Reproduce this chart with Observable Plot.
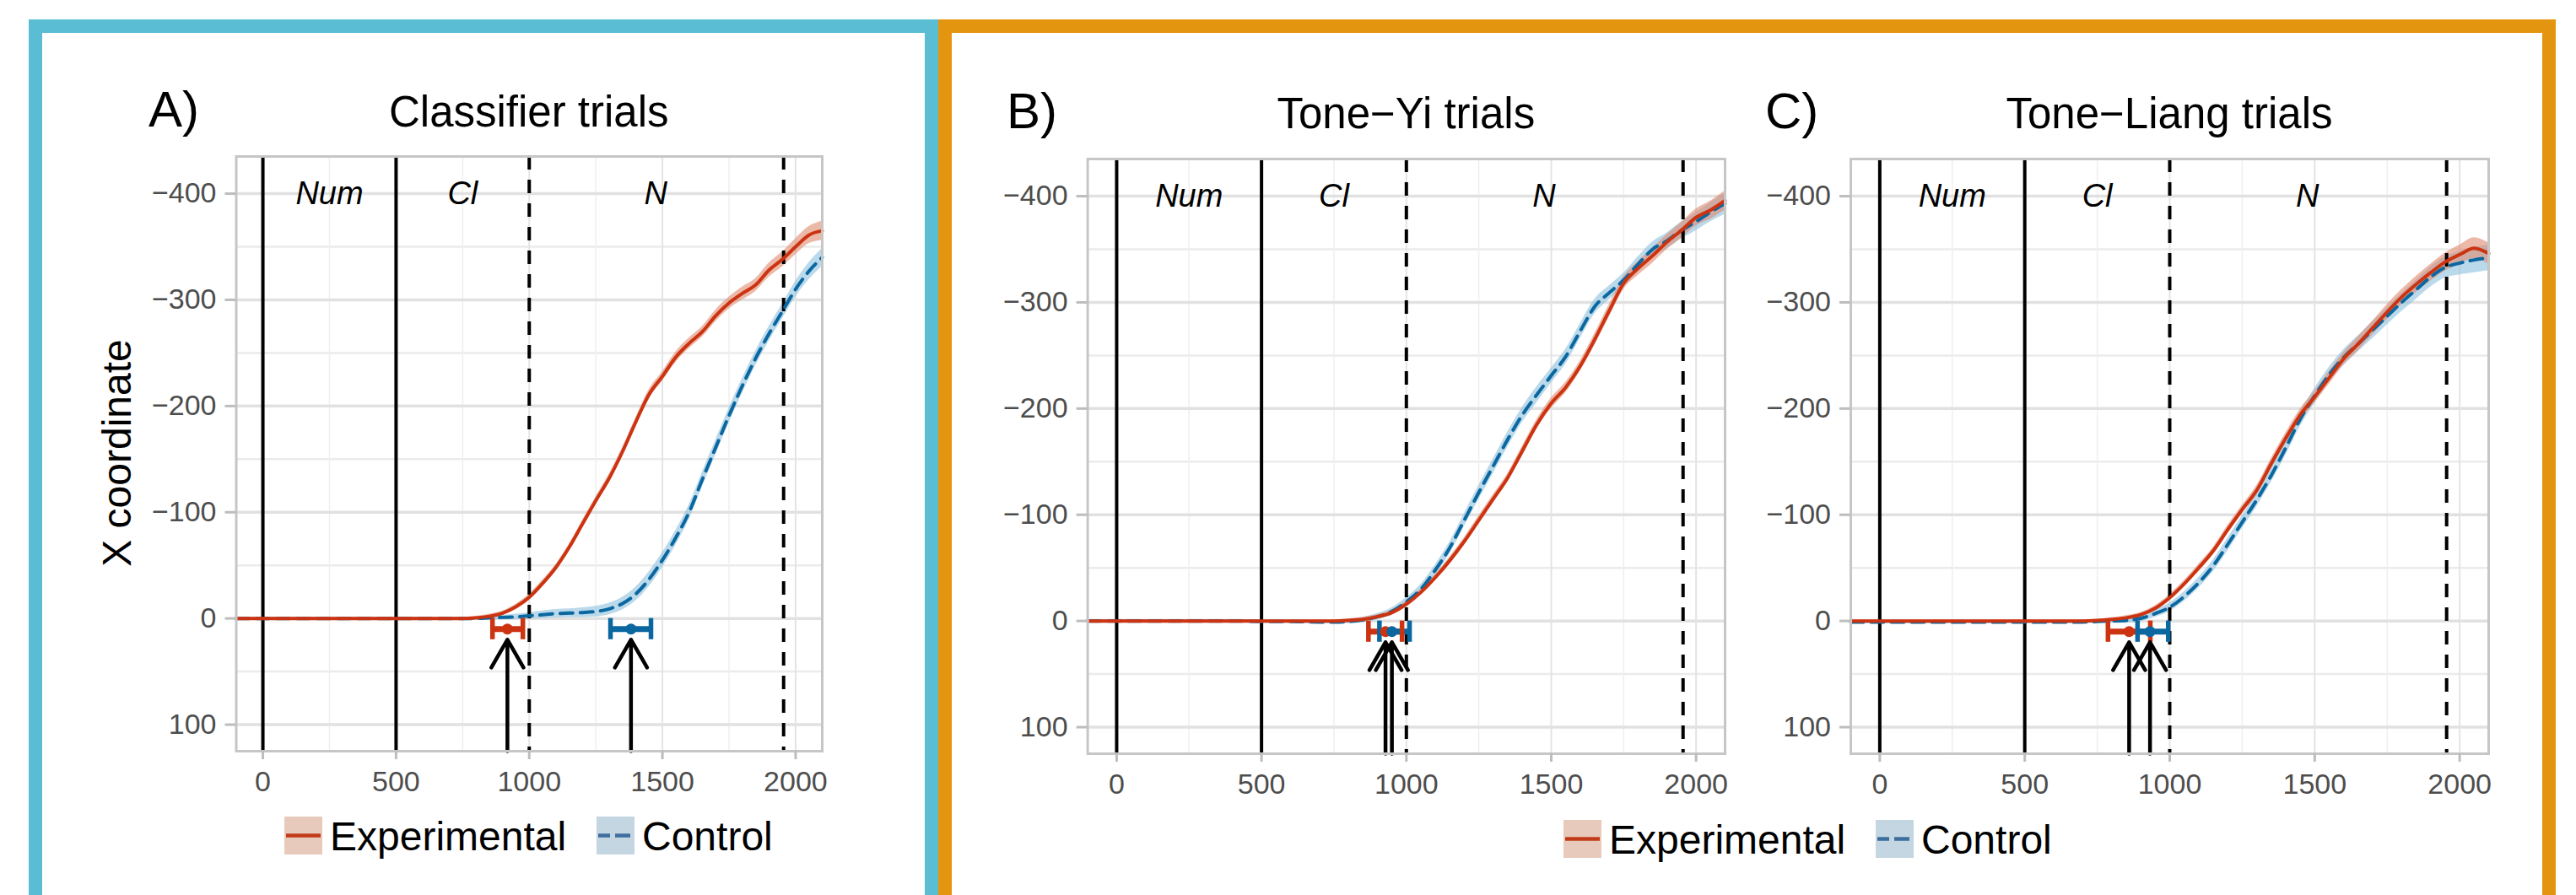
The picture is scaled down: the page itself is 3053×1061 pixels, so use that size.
<!DOCTYPE html>
<html>
<head>
<meta charset="utf-8">
<script src="https://cdn.jsdelivr.net/npm/d3@7"></script>
<script src="https://cdn.jsdelivr.net/npm/@observablehq/plot@0.6"></script>
<style>
html,body{margin:0;padding:0;background:#fff}
body{position:relative;width:3053px;height:1061px;overflow:hidden;font-family:"Liberation Sans",Arial,Helvetica,sans-serif}
.frame{position:absolute;box-sizing:border-box;border-style:solid;border-width:16px 16px 0 16px;height:1100px}
.panel{position:absolute}
.panel svg{display:block;max-width:none}
#overlay{position:absolute;left:0;top:0}
</style>
</head>
<body>
<div class="frame" style="left:34px;top:23px;width:1078px;border-color:#5bbdd4"></div>
<div class="frame" style="left:1112px;top:23px;width:1917px;border-color:#e4950f"></div>
<div id="p0" class="panel"></div>
<div id="p1" class="panel"></div>
<div id="p2" class="panel"></div>
<svg id="overlay" width="3053" height="1061"></svg>
<script>
// ---------------- DATA ----------------
const panelLetters = ["A)", "B)", "C)"];
const panelTitles = ["Classifier trials", "Tone\u2212Yi trials", "Tone\u2212Liang trials"];
const yAxisTitle = "X coordinate";
const seriesNames = ["Experimental", "Control"];

const time = [-100,0,100,200,300,400,500,600,700,750,800,850,900,950,1000,1050,1100,1150,1200,1250,1300,1350,1400,1450,1500,1550,1600,1650,1700,1750,1800,1850,1900,1950,2000,2050,2100];

// Panel A: Classifier trials
const classifierExp   = [0,0,0,0,0,0,0,0,0,0,-0.5,-2,-5,-11,-20,-33,-48,-67,-89,-111,-132,-157,-185,-211,-228,-246,-259,-270,-285,-297,-306,-314,-328,-338,-350,-361,-365];
const classifierExpSE = [1,1,1,1,1,1,1,1,1,1,1.5,2,2,2.5,3,3,3,3,3.5,3.5,4,4,4,4.5,4.5,5,5,5,5.5,5.5,6,6,6.5,7,7.5,8,9];
const classifierCtl   = [0,0,0,0,0,0,0,0,0,0,0,-0.5,-1,-1.5,-2.5,-3.5,-4.5,-5,-5.5,-6.5,-9,-14,-23,-37,-55,-76,-100,-131,-161,-191,-219,-245,-268,-289,-310,-327,-340];
const classifierCtlSE = [1,1,1,1,1,1,1,1,1,1,1,1.5,2,2.5,3,3.5,4,4,4.5,5,5.5,6,6.5,7,7,7,7,7,7,7,7,7,7,7,7.5,8,8.5];

// Panel B: Tone-Yi trials
const toneYiExp   = [0,0,0,0,0,0,0,0,0,0,-0.5,-1.5,-4,-8,-16,-27,-41,-57,-75,-95,-115,-135,-160,-185,-205,-220,-240,-265,-292,-318,-332,-344,-357,-368,-380,-387,-396];
const toneYiExpSE = [1,1,1,1,1,1,1,1,1,1,1.5,2,2,2.5,3,3,3,3.5,3.5,4,4,4,4.5,4.5,5,5,5,5.5,6,6,6.5,7,7,7.5,8,8.5,9];
const toneYiCtl   = [0,0,0,0,0,0,0.5,0.5,1,1,0.5,-1,-4,-9,-18,-30,-48,-69,-95,-121,-146,-171,-194,-213,-231,-249,-273,-296,-309,-321,-336,-350,-358,-368,-376,-385,-393];
const toneYiCtlSE = [1.5,1.5,1.5,1.5,1.5,1.5,1.5,1.5,1.5,1.5,2,2.5,3,3.5,4,4.5,5,5.5,6,6.5,7,7,7,7.5,7,7,7,7,6.5,6.5,7,7,7.5,8,8.5,9,10];

// Panel C: Tone-Liang trials
const toneLiangExp   = [0,0,0,0,0,0,0,0,0,-0.5,-1.5,-3,-6,-12,-22,-35,-50,-66,-86,-105,-123,-148,-172,-194,-211,-229,-247,-261,-276,-291,-305,-317,-328,-338,-345,-351,-346];
const toneLiangExpSE = [1,1,1,1,1,1,1,1,1,1,1.5,2,2,2.5,3,3,3.5,3.5,4,4,4.5,5,5,5.5,5.5,6,6,6.5,6.5,7,7,7.5,8,8.5,9,10,10];
const toneLiangCtl   = [1,1,1,1,1,1,1,1,1,0.5,0,-0.5,-2.5,-7,-13,-23,-36,-52,-72,-93,-114,-137,-163,-190,-212,-232,-248,-261,-274,-287,-300,-312,-324,-333,-337,-340,-342];
const toneLiangCtlSE = [1.5,1.5,1.5,1.5,1.5,1.5,1.5,1.5,1.5,1.5,2,2.5,3,3.5,4,4.5,5,5.5,6,6,6.5,6.5,7,7,7,7,7.5,7.5,8,8,8.5,9,9.5,10,11,12,12];

// Divergence onsets (mean and CI), per panel: [A, B, C]
const onsetExpMean = [918, 928, 860];
const onsetExpLo   = [862, 869, 787];
const onsetExpHi   = [976, 985, 933];
const onsetCtlMean = [1382, 950, 932];
const onsetCtlLo   = [1305, 907, 889];
const onsetCtlHi   = [1457, 1011, 995];

// Word regions
const regionLabels = ["Num", "Cl", "N"];
const regionCenters = [250, 750, 1475];
const regionLabelLevel = -400;
const solidBoundaries = [0, 500];
const dashedBoundaries = [1000, 1955];

// Ticks
const xTicks = [0, 500, 1000, 1500, 2000];
const xMinor = [250, 750, 1250, 1750];
const yTicks = [-400, -300, -200, -100, 0, 100];
const yMinor = [-350, -250, -150, -50, 50];
const xDomain = [-100, 2100];
const yDomain = [125, -435];

// onset marker geometry in data units
const onsetRow = 10, onsetCapHalf = 10, arrowTip = 20, arrowBase = 125;

// ---------------- STYLE / LAYOUT ----------------
const FONT = '"Liberation Sans", Arial, Helvetica, sans-serif';
const RED = "#CC3311", BLUE = "#0a67a0";
const RED_RIB = "#e08a70", BLUE_RIB = "#8cc0de";

const seriesByPanel = [
  [classifierExp, classifierExpSE, classifierCtl, classifierCtlSE],
  [toneYiExp, toneYiExpSE, toneYiCtl, toneYiCtlSE],
  [toneLiangExp, toneLiangExpSE, toneLiangCtl, toneLiangCtlSE]
];

const layout = [
  {left: 150, top: 170, mL: 129.5, pw: 694.5, ph: 705},
  {left: 1200, top: 173, mL: 88.6, pw: 755.4, ph: 705},
  {left: 2105, top: 173, mL: 88, pw: 756, ph: 705}
];
const mT = 15, mR = 30, mB = 60;
const curve = "monotone-x";

layout.forEach((L, p) => {
  const [E, Ese, C, Cse] = seriesByPanel[p];
  const rows = time.map((t, i) => ({
    t, exp: E[i], expLo: E[i] - Ese[i], expHi: E[i] + Ese[i],
    ctl: C[i], ctlLo: C[i] - Cse[i], ctlHi: C[i] + Cse[i]
  }));
  const onsets = [
    {cond: seriesNames[0], mean: onsetExpMean[p], lo: onsetExpLo[p], hi: onsetExpHi[p]},
    {cond: seriesNames[1], mean: onsetCtlMean[p], lo: onsetCtlLo[p], hi: onsetCtlHi[p]}
  ];
  const regions = regionLabels.map((label, i) => ({label, x: regionCenters[i]}));

  const width = L.mL + L.pw + mR;
  const height = mT + L.ph + mB;
  const chart = Plot.plot({
    width, height,
    marginLeft: L.mL, marginRight: mR, marginTop: mT, marginBottom: mB,
    x: {domain: xDomain, label: null},
    y: {domain: yDomain, label: null},
    color: {domain: seriesNames, range: [RED, BLUE]},
    style: {background: "transparent", fontFamily: FONT, overflow: "visible"},
    marks: [
      Plot.ruleY(yMinor, {stroke: "#ebebeb", strokeWidth: 2.5}),
      Plot.ruleX(xMinor, {stroke: "#efefef", strokeWidth: 1.5}),
      Plot.ruleY(yTicks, {stroke: "#e1e1e1", strokeWidth: 3.5}),
      Plot.ruleX(xTicks, {stroke: "#e4e4e4", strokeWidth: 2}),
      Plot.areaY(rows, {x: "t", y1: "ctlLo", y2: "ctlHi", fill: BLUE_RIB, fillOpacity: 0.6, curve}),
      Plot.areaY(rows, {x: "t", y1: "expLo", y2: "expHi", fill: RED_RIB, fillOpacity: 0.6, curve}),
      Plot.ruleX(solidBoundaries, {stroke: "black", strokeWidth: 4}),
      Plot.ruleX(dashedBoundaries, {stroke: "black", strokeWidth: 4, strokeDasharray: "16,12"}),
      Plot.line(rows, {x: "t", y: "ctl", stroke: BLUE, strokeWidth: 4, strokeDasharray: "15,9", curve}),
      Plot.line(rows, {x: "t", y: "exp", stroke: RED, strokeWidth: 4, curve}),
      Plot.text(regions, {x: "x", y: regionLabelLevel, text: "label", fontStyle: "italic", fontSize: 38, fill: "black", fontFamily: FONT}),
      Plot.ruleY(onsets, {y: onsetRow, x1: "lo", x2: "hi", stroke: "cond", strokeWidth: 7}),
      Plot.ruleX(onsets, {x: "lo", y1: onsetRow - onsetCapHalf, y2: onsetRow + onsetCapHalf, stroke: "cond", strokeWidth: 5.5}),
      Plot.ruleX(onsets, {x: "hi", y1: onsetRow - onsetCapHalf, y2: onsetRow + onsetCapHalf, stroke: "cond", strokeWidth: 5.5}),
      Plot.dot(onsets, {x: "mean", y: onsetRow, r: 6.5, fill: "cond", stroke: null}),
      Plot.arrow(onsets, {x1: "mean", x2: "mean", y1: arrowBase, y2: arrowTip, stroke: "black", strokeWidth: 4.5, headLength: 12.7, headAngle: 60}),
      Plot.frame({stroke: "#c6c6c6", strokeWidth: 3}),
      Plot.axisX(xTicks, {tickSize: 10, strokeWidth: 3, color: "#bdbdbd", tickFormat: () => "", label: null}),
      Plot.axisX(xTicks, {tickSize: 0, tickPadding: 23, fontSize: 34, color: "#4d4d4d", tickFormat: d3.format("d"), label: null}),
      Plot.axisY(yTicks, {tickSize: 13, strokeWidth: 3, color: "#bdbdbd", tickFormat: () => "", label: null}),
      Plot.axisY(yTicks, {tickSize: 0, tickPadding: 23.5, fontSize: 34, color: "#4d4d4d", tickFormat: d3.format("d"), label: null})
    ]
  });
  const host = document.getElementById("p" + p);
  host.style.left = L.left + "px";
  host.style.top = L.top + "px";
  host.style.width = width + "px";
  host.style.height = height + "px";
  host.appendChild(chart);
});

// ---------------- TEXT OVERLAY ----------------
const ov = d3.select("#overlay").attr("font-family", FONT);
const letterPos = [[176, 150], [1193, 152], [2092, 152]];
const titlePos = [[626.75, 150], [1666.3, 152], [2571, 152]];
panelLetters.forEach((s, i) => {
  ov.append("text").attr("x", letterPos[i][0]).attr("y", letterPos[i][1])
    .attr("font-size", 60).attr("fill", "black").text(s);
});
panelTitles.forEach((s, i) => {
  ov.append("text").attr("x", titlePos[i][0]).attr("y", titlePos[i][1])
    .attr("font-size", 51).attr("text-anchor", "middle").attr("fill", "black").text(s);
});
ov.append("text").attr("transform", "translate(155,537) rotate(-90)")
  .attr("text-anchor", "middle").attr("font-size", 48).attr("fill", "black").text(yAxisTitle);

// Legends
function legend(keyXs, top, baseline) {
  const k = 45;
  const keyFill = ["#e8cabd", "#c4d6e2"];
  seriesNames.forEach((name, i) => {
    const x = keyXs[i];
    ov.append("rect").attr("x", x).attr("y", top).attr("width", k).attr("height", k).attr("fill", keyFill[i]);
    const ln = ov.append("line").attr("x1", x + 2).attr("x2", x + 43)
      .attr("y1", top + k / 2).attr("y2", top + k / 2)
      .attr("stroke", i === 0 ? "#c23a17" : "#3d6e9e").attr("stroke-width", 4.5);
    if (i === 1) ln.attr("stroke-dasharray", "14,6,18,10");
    ov.append("text").attr("x", x + k + 9).attr("y", baseline)
      .attr("font-size", 48).attr("fill", "black").text(name);
  });
}
legend([337, 707], 968, 1008);
legend([1853, 2223], 972, 1012);
</script>
</body>
</html>
